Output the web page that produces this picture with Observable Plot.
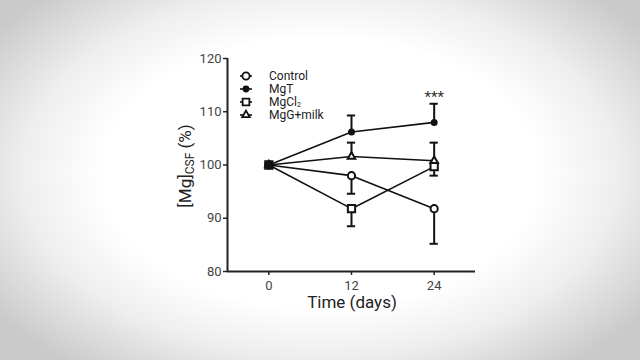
<!DOCTYPE html>
<html>
<head>
<meta charset="utf-8">
<script src="https://cdn.jsdelivr.net/npm/d3@7"></script>
<script src="https://cdn.jsdelivr.net/npm/@observablehq/plot@0.6"></script>
<style>
  html, body { margin: 0; padding: 0; }
  body {
    width: 640px; height: 360px; overflow: hidden;
    background: radial-gradient(ellipse 62% 68% at 50% 48%, #ffffff 0%, #ffffff 55%, #eeeeee 75%, #cacaca 100%);
    font-family: Roboto, "Noto Sans", sans-serif;
  }
  #chart { position: absolute; left: 0; top: 0; }
</style>
</head>
<body>
<div id="chart"></div>
<script>
// ---- data ----
const days = [0, 12, 24];
const seriesNames = ["Control", "MgT", "MgCl2", "MgG+milk"];
const controlVals = [100, 98.0, 91.8];
const controlErrEnd = [null, 94.6, 85.2];
const mgtVals = [100, 106.2, 108.0];
const mgtErrEnd = [null, 109.3, 111.5];
const mgcl2Vals = [100, 91.8, 99.7];
const mgcl2ErrEnd = [null, 88.5, 98.0];
const milkVals = [100, 101.6, 100.8];
const milkErrEnd = [null, 104.2, 104.2];
const xTicks = [0, 12, 24];
const yTicks = [80, 90, 100, 110, 120];
const sigLabel = { day: 24, value: 112.7, text: "***" };

// ---- build table ----
const valsBy = { "Control": controlVals, "MgT": mgtVals, "MgCl2": mgcl2Vals, "MgG+milk": milkVals };
const errBy = { "Control": controlErrEnd, "MgT": mgtErrEnd, "MgCl2": mgcl2ErrEnd, "MgG+milk": milkErrEnd };
const rows = [];
for (const s of seriesNames) {
  days.forEach((d, i) => rows.push({ series: s, day: d, value: valsBy[s][i], err: errBy[s][i] }));
}
const errRows = rows.filter(r => r.err != null);
const bySeries = s => rows.filter(r => r.series === s);

const fillFor = d => d.day === 0 ? "#111" : "white";

const chart = Plot.plot({
  width: 640,
  height: 360,
  marginLeft: 227,
  marginRight: 165,
  marginTop: 58,
  marginBottom: 89,
  style: { background: "transparent", fontFamily: "Roboto, sans-serif", overflow: "visible" },
  x: { domain: [-6, 30], label: null },
  y: { domain: [80, 120], label: null },
  marks: [
    Plot.axisY({ ticks: yTicks, tickSize: 4, tickPadding: 2, fontSize: 13, color: "#444", stroke: "#222", strokeWidth: 1.5, label: null }),
    Plot.axisX({ ticks: xTicks, tickSize: 4, tickPadding: 5, fontSize: 13, color: "#444", stroke: "#222", strokeWidth: 1.5, label: null }),
    Plot.ruleY([80], { stroke: "#222", strokeWidth: 2 }),
    Plot.ruleX([-6], { stroke: "#222", strokeWidth: 2 }),
    // error bars
    Plot.ruleX(errRows, { x: "day", y1: "value", y2: "err", stroke: "#111", strokeWidth: 2 }),
    Plot.ruleY(errRows, { x1: d => d.day - 0.6, x2: d => d.day + 0.6, y: "err", stroke: "#111", strokeWidth: 2 }),
    // lines
    Plot.line(rows, { x: "day", y: "value", z: "series", stroke: "#111", strokeWidth: 1.6 }),
    // markers
    Plot.dot(bySeries("MgG+milk"), { x: "day", y: "value", symbol: "triangle", r: 2.8, fill: fillFor, stroke: "#111", strokeWidth: 2 }),
    Plot.dot(bySeries("Control"), { x: "day", y: "value", symbol: "circle", r: 3.6, fill: fillFor, stroke: "#111", strokeWidth: 2 }),
    Plot.dot(bySeries("MgCl2"), { x: "day", y: "value", symbol: "square", r: 4.1, fill: fillFor, stroke: "#111", strokeWidth: 2 }),
    Plot.dot(bySeries("MgT"), { x: "day", y: "value", symbol: "circle", r: 3.5, fill: "#111", stroke: "none" }),
    Plot.text([sigLabel], { x: "day", y: "value", text: "text", fontSize: 15, fill: "#333" })
  ]
});
document.getElementById("chart").appendChild(chart);

const svg = d3.select(chart);

// y axis title with subscript
const yt = svg.append("text")
  .attr("transform", "translate(191,166) rotate(-90)")
  .attr("text-anchor", "middle")
  .attr("font-size", 17)
  .attr("fill", "#222")
  .attr("font-family", "Roboto, sans-serif");
yt.append("tspan").text("[Mg]");
yt.append("tspan").attr("font-size", 12).attr("dy", 3).text("CSF");
yt.append("tspan").attr("dy", -3).text(" (%)");

// x axis title
svg.append("text")
  .attr("x", 352).attr("y", 308)
  .attr("text-anchor", "middle")
  .attr("font-size", 17)
  .attr("fill", "#222")
  .attr("font-family", "Roboto, sans-serif")
  .text("Time (days)");

// legend
const legendSymbols = { "Control": { type: d3.symbolCircle, r: 3.6, fill: "white", stroke: "#111" },
                        "MgT": { type: d3.symbolCircle, r: 3.4, fill: "#111", stroke: "none" },
                        "MgCl2": { type: d3.symbolSquare, r: 3.8, fill: "white", stroke: "#111" },
                        "MgG+milk": { type: d3.symbolTriangle, r: 2.8, fill: "white", stroke: "#111" } };
const lg = svg.append("g").attr("transform", "translate(246,76)");
seriesNames.forEach((s, i) => {
  const row = lg.append("g").attr("transform", `translate(0,${i * 13})`);
  row.append("line").attr("x1", -6).attr("x2", 6).attr("stroke", "#111").attr("stroke-width", 1.6);
  const sym = legendSymbols[s];
  row.append("path")
    .attr("d", d3.symbol(sym.type, Math.PI * sym.r * sym.r)())
    .attr("fill", sym.fill).attr("stroke", sym.stroke).attr("stroke-width", 1.8);
  const t = row.append("text").attr("x", 23).attr("dy", "0.35em")
    .attr("text-anchor", "start")
    .attr("font-size", 12).attr("fill", "#222").attr("font-family", "Roboto, sans-serif");
  if (s === "MgCl2") {
    t.append("tspan").text("MgCl");
    t.append("tspan").attr("font-size", 7).attr("dy", 1).text("2");
  } else {
    t.text(s);
  }
});
</script>
</body>
</html>
